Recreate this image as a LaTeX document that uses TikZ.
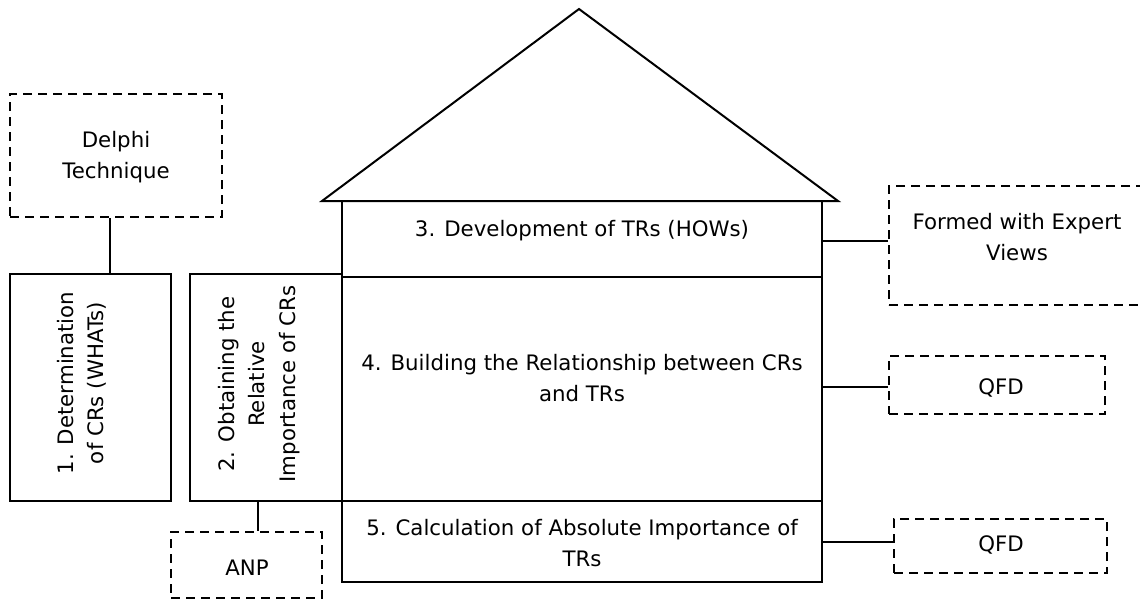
\documentclass[tikz,border=0pt]{standalone}
\usepackage{fontspec}
\setmainfont{DejaVu Sans}
\begin{document}
\begin{tikzpicture}[x=1pt,y=-1pt,
 solidbox/.style={draw,line width=2.4pt,inner sep=0pt},
 dashbox/.style={draw,line width=2.2pt,dash pattern=on 9pt off 6pt,inner sep=0pt},
 link/.style={line width=1.1pt},
 lbl/.style={font=\fontsize{21.3}{30.5}\selectfont,align=center,inner sep=0pt}]
\useasboundingbox (0,0) rectangle (1140,611);
% roof
\draw[line width=2pt,line join=miter] (322,201) -- (579,9) -- (838,201) -- cycle;
% solid boxes
\node[solidbox,minimum width=161pt,minimum height=227pt] (box1) at (90.5,387.5) {};
\node[solidbox,minimum width=152pt,minimum height=227pt] (box2) at (266,387.5) {};
\node[solidbox,minimum width=480pt,minimum height=76pt] (b3) at (582,239) {};
\node[solidbox,minimum width=480pt,minimum height=224pt] (b4) at (582,389) {};
\node[solidbox,minimum width=480pt,minimum height=81pt] (b5) at (582,541.5) {};
% dashed boxes
\node[dashbox,minimum width=212pt,minimum height=123pt] (delphi) at (116,155.5) {};
\node[dashbox,minimum width=151pt,minimum height=66pt] (anp) at (246.5,565) {};
\node[dashbox,minimum width=256pt,minimum height=119pt] (formed) at (1017,245.5) {};
\node[dashbox,minimum width=216pt,minimum height=58pt] (qfd1) at (997,385) {};
\node[dashbox,minimum width=213pt,minimum height=54pt] (qfd2) at (1000.5,546) {};
% texts
\node[lbl] (tdelphi) at (116,157) {Delphi\\Technique};
\node[lbl,rotate=90] (t1) at (82,383) {1. Determination\\of CRs (WHATs)};
\node[lbl,rotate=90] (t2) at (259,384) {2. Obtaining the\\Relative\\Importance of CRs};
\node[lbl] (t3) at (582,231) {3. Development of TRs (HOWs)};
\node[lbl] (t4) at (582,378) {4. Building the Relationship between CRs\\and TRs};
\node[lbl] (t5) at (582,543) {5. Calculation of Absolute Importance of\\TRs};
\node[lbl] (tf) at (1017,237) {Formed with Expert\\Views};
\node[lbl] (tq1) at (1001,388) {QFD};
\node[lbl] (tq2) at (1001,545) {QFD};
\node[lbl] (tanp) at (247,568) {ANP};
% connectors
\coordinate (c1) at (110,0);
\coordinate (c2) at (258,0);
\coordinate (c3) at (0,241);
\coordinate (c4) at (0,387);
\coordinate (c5) at (0,542);
\draw[link] (delphi.south -| c1) -- (box1.north -| c1);
\draw[link] (box2.south -| c2) -- (anp.north -| c2);
\draw[link] (b3.east |- c3) -- (formed.west |- c3);
\draw[link] (b4.east |- c4) -- (qfd1.west |- c4);
\draw[link] (b5.east |- c5) -- (qfd2.west |- c5);
\end{tikzpicture}
\end{document}
